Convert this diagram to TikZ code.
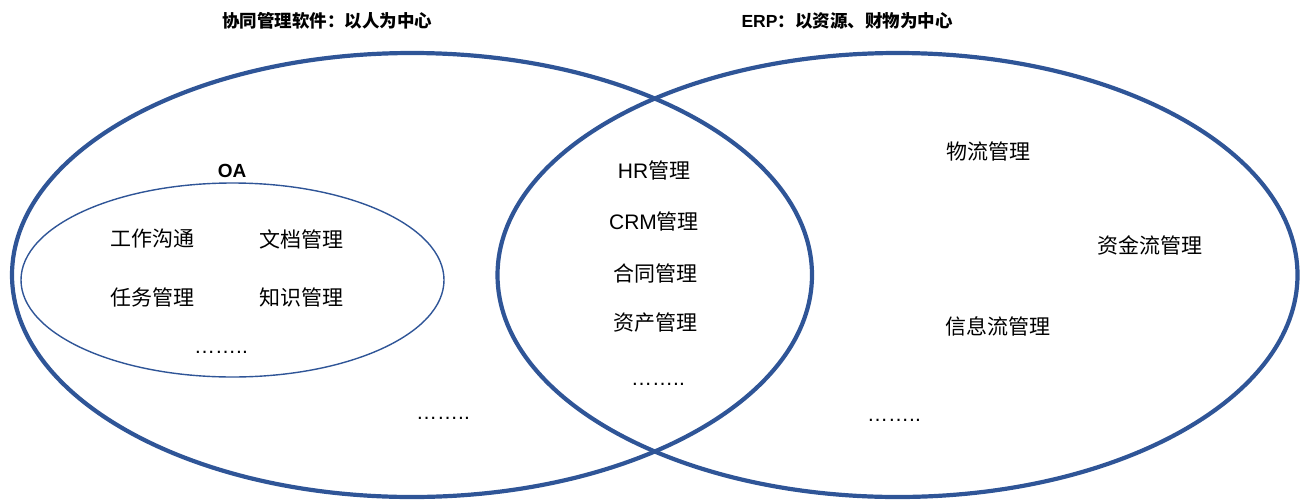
\documentclass[tikz,border=0pt]{standalone}
\usepackage{fontspec}
\setmainfont{Liberation Sans}
\newfontfamily\cjk{Noto Sans CJK SC}
\usetikzlibrary{shapes.geometric}
\definecolor{vennblue}{RGB}{47,85,151}
\tikzset{
  bigset/.style={draw=vennblue,line width=4.2pt},
  smallset/.style={draw=vennblue,line width=1.4pt},
  title/.style={font=\fontsize{17.5}{20}\selectfont\bfseries,inner sep=0pt},
  item/.style={font=\fontsize{21}{24}\selectfont,inner sep=0pt},
  oalabel/.style={font=\fontsize{19}{22}\selectfont\bfseries,inner sep=0pt}
}
\begin{document}
\begin{tikzpicture}[x=1pt,y=-1pt]
\useasboundingbox (0,0) rectangle (1308,501);
% sets
\coordinate (lc) at (412,275);
\coordinate (rc) at (897.5,275);
\coordinate (oc) at (232.5,280);
\draw[bigset] (lc) ellipse [x radius=400, y radius=222];
\draw[bigset] (rc) ellipse [x radius=400, y radius=222];
\draw[smallset] (oc) ellipse [x radius=211.5, y radius=97];
% titles
\node[title] (t1) at (327,21) {\cjk 协同管理软件：以人为中心};
\node[title] (t2) at (847,21) {ERP{\cjk ：以资源、财物为中心}};
\node[oalabel] (oa) at (232,171) {OA};
% OA items
\node[item] (o1) at (152,239) {\cjk 工作沟通};
\node[item] (o2) at (301,239) {\cjk 文档管理};
\node[item] (o3) at (152,297) {\cjk 任务管理};
\node[item] (o4) at (301,297) {\cjk 知识管理};
\node[item] (o5) at (221,352) {……..};
% middle
\node[item] (m1) at (654,170) {HR{\cjk 管理}};
\node[item] (m2) at (654,221) {CRM{\cjk 管理}};
\node[item] (m3) at (655,273) {\cjk 合同管理};
\node[item] (m4) at (655,323) {\cjk 资产管理};
\node[item] (m5) at (658,384) {……..};
% left remainder
\node[item] (l1) at (443,418) {……..};
% right
\node[item] (r1) at (988,151) {\cjk 物流管理};
\node[item] (r2) at (1150,245) {\cjk 资金流管理};
\node[item] (r3) at (998,326) {\cjk 信息流管理};
\node[item] (r4) at (894,420) {……..};
\end{tikzpicture}
\end{document}
